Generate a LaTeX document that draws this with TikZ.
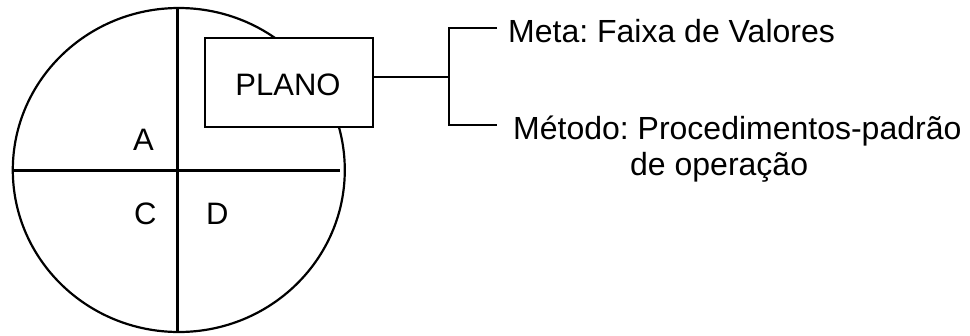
\documentclass[tikz,border=0pt]{standalone}
\usepackage{fontspec}
\setmainfont{Liberation Sans}
\frenchspacing
\begin{document}
\begin{tikzpicture}[x=1pt,y=-1pt,
  stroke/.style={line width=2.2pt, line cap=butt},
  lbl/.style={inner sep=0pt, font=\fontsize{32}{36}\selectfont\frenchspacing},
  quad/.style={inner sep=0pt, font=\fontsize{31}{36}\selectfont},
  planobox/.style={draw, fill=white, line width=2.2pt, minimum width=168pt, minimum height=89pt, inner sep=0pt}]
\useasboundingbox (0,0) rectangle (970,335);
% circle and axes
\coordinate (cc) at (178.8,170);
\draw[stroke] (cc) ellipse [x radius=166, y radius=162];
\coordinate (hl) at (12,170.5);
\coordinate (hr) at (340,170.5);
\coordinate (vt) at (177.5,8);
\coordinate (vb) at (177.5,333);
\draw[stroke] (hl) -- (hr);
\draw[stroke] (vt) -- (vb);
% quadrant letters
\node[quad, anchor=base west] (A) at (133,150) {A};
\node[quad, anchor=base west] (C) at (134,224) {C};
\node[quad, anchor=base west] (D) at (206,224) {D};
% plan box
\node[planobox] (plano) at (289,82.5) {};
\node[quad, anchor=base] (planotxt) at (288,95) {PLANO};
% bracket
\coordinate (j) at (449,77);
\coordinate (jt) at (449,28);
\coordinate (jb) at (449,125);
\coordinate (mt) at (497,28);
\coordinate (mb) at (497,125);
\draw[stroke] (plano.east |- j) -- (j);
\draw[stroke] (mt) -- (jt) -- (jb) -- (mb);
% texts
\node[lbl, anchor=base west] (meta) at (508,42) {Meta: Faixa de Valores};
\node[lbl, anchor=base west] (metodo) at (513,139) {Método: Procedimentos-padrão};
\node[lbl, anchor=base west] (oper) at (630,175) {de operação};
\end{tikzpicture}
\end{document}
